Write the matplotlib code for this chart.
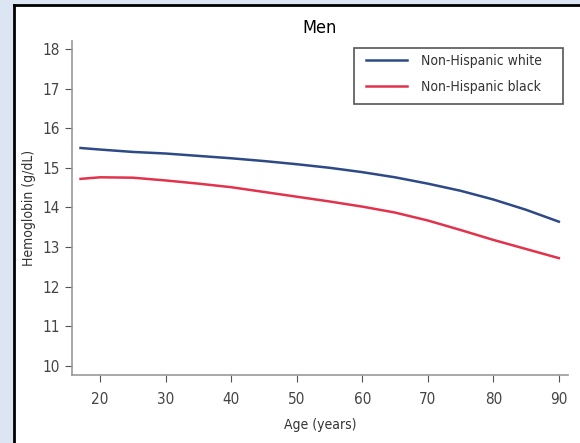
import matplotlib.pyplot as plt
from matplotlib.patches import Rectangle

age = [17, 20, 25, 30, 35, 40, 45, 50, 55, 60, 65, 70, 75, 80, 85, 90]
white = [15.50, 15.46, 15.40, 15.36, 15.30, 15.24, 15.17, 15.09, 15.00, 14.89,
         14.76, 14.60, 14.42, 14.20, 13.94, 13.64]
black = [14.72, 14.76, 14.75, 14.68, 14.60, 14.51, 14.39, 14.27, 14.15, 14.02,
         13.87, 13.67, 13.43, 13.18, 12.95, 12.72]
xticks = [20, 30, 40, 50, 60, 70, 80, 90]
yticks = [10, 11, 12, 13, 14, 15, 16, 17, 18]

plt.rcParams['font.family'] = ['DejaVu Sans']
plt.rcParams['font.stretch'] = 'condensed'

fig = plt.figure(figsize=(5.8, 4.43), dpi=100)
fig.patch.set_facecolor('#dce6f2')
# white panel with black left/top border
fig.add_artist(Rectangle((14/580, 0), 1 - 14/580, 1 - 5/443, transform=fig.transFigure,
                         facecolor='white', edgecolor='none', zorder=-5))
fig.add_artist(plt.Line2D([14/580, 14/580], [0, 1 - 5/443], transform=fig.transFigure,
                          color='black', lw=2, zorder=-4))
fig.add_artist(plt.Line2D([14/580, 1], [1 - 5/443, 1 - 5/443], transform=fig.transFigure,
                          color='black', lw=2, zorder=-4))

ax = fig.add_axes([72/580, 1 - 375/443, (568 - 72)/580, (375 - 41)/443])
ax.set_zorder(2)
ax.set_facecolor('none')
ax.plot(age, white, color='#2d4a86', lw=1.8, label='Non-Hispanic white')
ax.plot(age, black, color='#e2334d', lw=1.8, label='Non-Hispanic black')

ax.set_xlim(15.7, 91.4)
ax.set_ylim(9.77, 18.2)
ax.set_xticks(xticks)
ax.set_yticks(yticks)
for s in ['top', 'right']:
    ax.spines[s].set_visible(False)
for s in ['left', 'bottom']:
    ax.spines[s].set_color('#999999')
    ax.spines[s].set_linewidth(1.2)
ax.tick_params(direction='out', length=5, color='#555555', labelsize=11,
               labelcolor='#444444')
ax.tick_params(axis='x', pad=7)

ax.set_title('Men', fontsize=13, pad=6)
ax.set_xlabel('Age (years)', fontsize=10, color='#333333', labelpad=8)
ax.set_ylabel('Hemoglobin (g/dL)', fontsize=10, color='#333333', labelpad=5)

# legend box is wider than its content, so draw the frame separately
fig.add_artist(Rectangle((354/580, 1 - 104/443), 209/580, 56/443, transform=fig.transFigure,
                         facecolor='white', edgecolor='#555555', lw=1.2, zorder=1))
leg = ax.legend(loc='upper left', bbox_to_anchor=(360/580, 1 - 48/443),
                bbox_transform=fig.transFigure, fontsize=10, frameon=False,
                handlelength=3.0, borderpad=0.4, labelspacing=0.87,
                handletextpad=1.0, borderaxespad=0)
for t in leg.get_texts():
    t.set_color('#333333')

plt.savefig('out.png', dpi=100)
